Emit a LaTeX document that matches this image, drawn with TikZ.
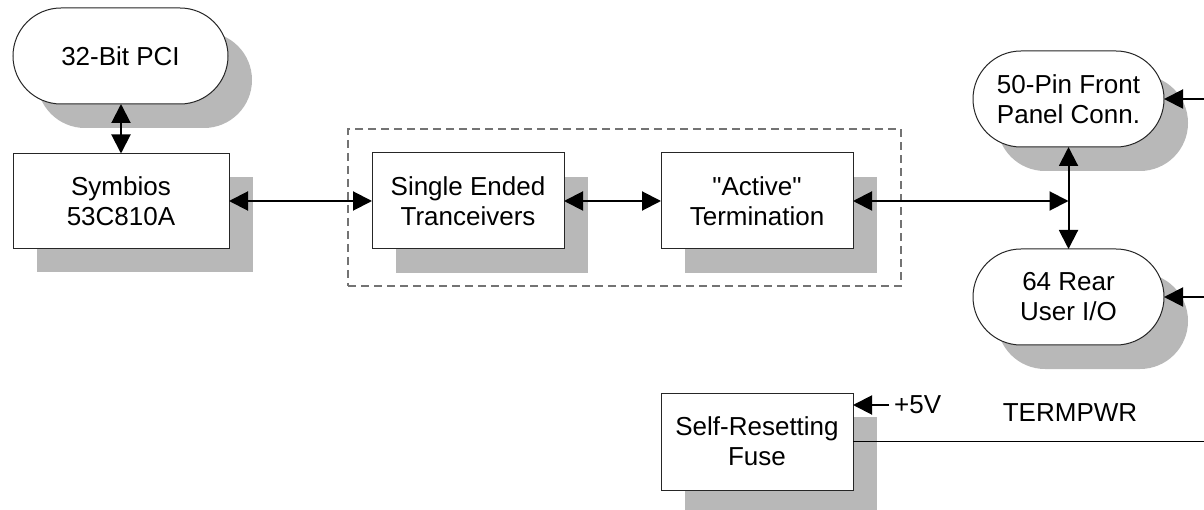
\documentclass[tikz,border=0pt]{standalone}
\usepackage{fontspec}
\setmainfont{Liberation Sans}[Ligatures=TeXOff]
\usetikzlibrary{arrows.meta,shadows}
\begin{document}
\begin{tikzpicture}[x=1pt,y=-1pt,
  txt/.style={font=\fontsize{26}{30}\selectfont},
  blk/.style={txt, draw=black!85, line width=1pt, fill=white, inner sep=0pt, outer sep=0pt, align=center,
    drop shadow={shadow xshift=24pt, shadow yshift=-24pt, fill=black!28, opacity=1}},
  pill/.style={blk, rounded corners=48pt},
  arr/.style={line width=2pt, -{Triangle[length=19pt,width=19pt]}},
  darr/.style={line width=2pt, {Triangle[length=19pt,width=19pt]}-{Triangle[length=19pt,width=19pt]}},
  lbl/.style={txt, inner sep=0pt}
]
\useasboundingbox (0,0) rectangle (1204,510);
% dashed group
\node[draw=black!55, line width=1.1pt, dash pattern=on 8pt off 5pt, minimum width=553pt, minimum height=157pt, inner sep=0pt] (grp) at (624.5,207.5) {};
% blocks
\node[pill, minimum width=215pt, minimum height=96pt] (pci) at (120.5,56) {32-Bit PCI};
\node[blk, minimum width=216pt, minimum height=95pt] (sym) at (121,201) {Symbios\\53C810A};
\node[blk, minimum width=192pt, minimum height=96pt] (sing) at (468,201) {Single Ended\\Tranceivers};
\node[blk, minimum width=192pt, minimum height=96pt] (act) at (757,201) {"Active"\\Termination};
\node[pill, minimum width=191pt, minimum height=96pt] (front) at (1068.5,99) {50-Pin Front\\Panel Conn.};
\node[pill, minimum width=191pt, minimum height=96pt] (rear) at (1068.5,297) {64 Rear\\User I/O};
\node[blk, minimum width=192pt, minimum height=97pt] (fuse) at (757,441.5) {Self-Resetting\\Fuse};
% labels
\node[lbl, anchor=west] (v5) at (894,405) {+5V};
\node[lbl] (tp) at (1070,413) {TERMPWR};
% edge coordinates
\coordinate (r1) at (1204,99);
\coordinate (r2) at (1204,297);
\coordinate (r3) at (1204,441.5);
\coordinate (v5s) at (889,405);
% connectors
\draw[darr] (pci.south -| sym.north) -- (sym.north);
\draw[darr] (sym.east) -- (sing.west);
\draw[darr] (sing.east) -- (act.west);
\draw[darr] (act.east) -- (act.east -| front.south);
\draw[darr] (front.south) -- (rear.north);
\draw[arr] (r1) -- (front.east);
\draw[arr] (r2) -- (rear.east);
\draw[arr] (v5s) -- (v5s -| fuse.east);
\draw[line width=1.6pt] (fuse.east) -- (r3);
\end{tikzpicture}
\end{document}
